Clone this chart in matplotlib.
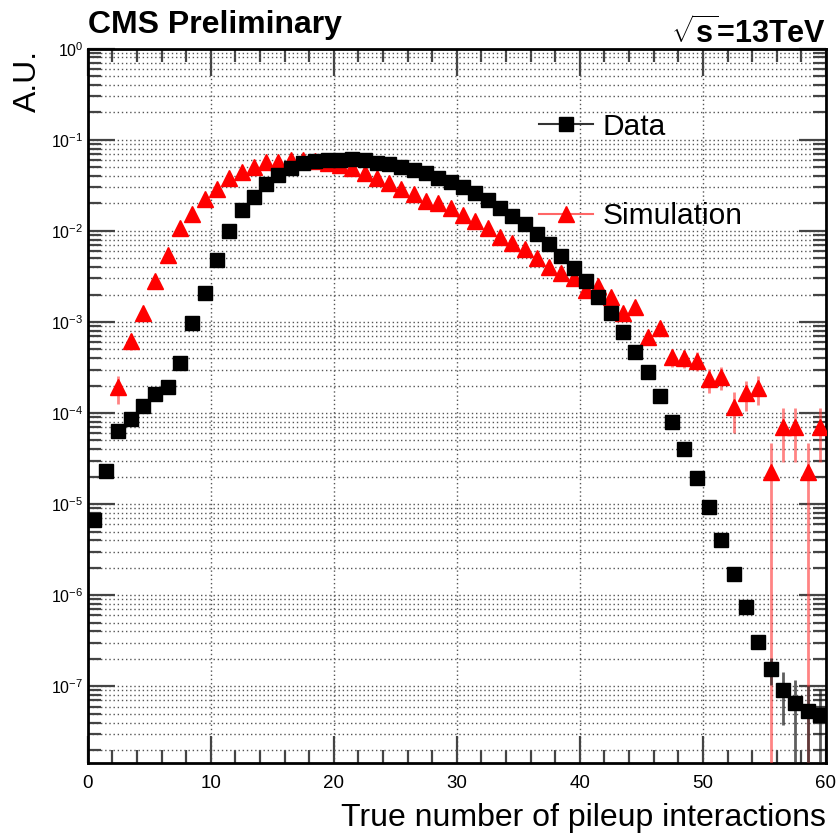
import matplotlib
matplotlib.use("Agg")
import matplotlib.pyplot as plt
from matplotlib.lines import Line2D
from matplotlib.ticker import LogLocator, MultipleLocator, NullFormatter
import numpy as np

plt.rcParams["font.family"] = ["Liberation Sans", "DejaVu Sans"]
plt.rcParams["mathtext.fontset"] = "custom"
plt.rcParams["mathtext.rm"] = "Liberation Sans"
plt.rcParams["mathtext.bf"] = "Liberation Sans:bold"

# ── pileup distributions (normalised, 1 bin per interaction) ─────────
pileup = np.arange(60) + 0.5

data = [6.7e-6, 2.3e-5, 6.3e-5, 8.5e-5, 1.2e-4, 1.63e-4, 1.92e-4, 3.5e-4, 9.7e-4, 2.1e-3,
        4.8e-3, 1.0e-2, 1.68e-2, 2.37e-2, 3.25e-2, 4.1e-2, 4.86e-2, 5.5e-2, 5.8e-2, 5.95e-2,
        6.0e-2, 6.1e-2, 5.95e-2, 5.6e-2, 5.4e-2, 5.07e-2, 4.7e-2, 4.28e-2, 3.84e-2, 3.47e-2,
        3.0e-2, 2.63e-2, 2.18e-2, 1.78e-2, 1.46e-2, 1.18e-2, 9.3e-3, 7.1e-3, 5.3e-3, 3.9e-3,
        2.8e-3, 1.87e-3, 1.25e-3, 7.8e-4, 4.7e-4, 2.8e-4, 1.54e-4, 8.05e-5, 4.0e-5, 1.96e-5,
        9.2e-6, 4.05e-6, 1.71e-6, 7.4e-7, 3.1e-7, 1.54e-7, 9.0e-8, 6.5e-8, 5.4e-8, 4.85e-8]
data_err = [0.0] * 52 + [5e-8, 5e-8, 5e-8, 5e-8, 5.2e-8, 5.2e-8, 4.6e-8, 4.5e-8]

sim = [np.nan, np.nan, 1.92e-4, 6.1e-4, 1.26e-3, 2.84e-3, 5.5e-3, 1.07e-2, 1.53e-2, 2.22e-2,
       2.86e-2, 3.78e-2, 4.4e-2, 5.07e-2, 5.7e-2, 5.75e-2, 6.0e-2, 6.05e-2, 5.9e-2, 5.6e-2,
       5.3e-2, 4.86e-2, 4.35e-2, 3.78e-2, 3.38e-2, 2.86e-2, 2.52e-2, 2.15e-2, 2.01e-2, 1.77e-2,
       1.49e-2, 1.28e-2, 1.07e-2, 8.6e-3, 7.3e-3, 6.4e-3, 5.0e-3, 4.05e-3, 3.48e-3, 3.02e-3,
       2.25e-3, 2.48e-3, 1.9e-3, 1.25e-3, 1.45e-3, 6.8e-4, 8.6e-4, 4.1e-4, 4.0e-4, 3.76e-4,
       2.37e-4, 2.5e-4, 1.16e-4, 1.65e-4, 1.87e-4, 2.27e-5, 7.1e-5, 7.1e-5, 2.27e-5, 7.1e-5]
sim_err = [0.0, 0.0, 6.5e-5, 1.2e-4, 1.7e-4, 2.6e-4, 3.6e-4, 5.0e-4, 5.9e-4, 7.2e-4,
           8.1e-4, 9.3e-4, 1.0e-3, 1.1e-3, 1.15e-3, 1.15e-3, 1.2e-3, 1.2e-3, 1.2e-3, 1.15e-3,
           1.1e-3, 1.05e-3, 1.0e-3, 9.3e-4, 8.8e-4, 8.1e-4, 7.6e-4, 7.0e-4, 6.8e-4, 6.4e-4,
           5.9e-4, 5.4e-4, 5.0e-4, 4.5e-4, 4.1e-4, 3.8e-4, 3.4e-4, 3.1e-4, 2.8e-4, 2.6e-4,
           2.3e-4, 2.4e-4, 2.1e-4, 1.7e-4, 1.8e-4, 1.0e-4, 1.3e-4, 9e-5, 9e-5, 9e-5,
           7e-5, 7e-5, 5.5e-5, 6e-5, 6.5e-5, 2.4e-5, 4.2e-5, 4.2e-5, 2.4e-5, 4.2e-5]

# ── figure ───────────────────────────────────────────────────
fig = plt.figure(figsize=(8.4, 8.39), dpi=100)
ax = fig.add_axes([0.1044, 0.0906, 0.8789, 0.8514])
ax.set_yscale("log")

ax.errorbar(pileup, sim, yerr=sim_err, fmt="^", ms=11, color="#ff0000",
            mec="#ff0000", ecolor=(1.0, 0.2, 0.2, 0.6), elinewidth=2, capsize=0, zorder=4)
ax.errorbar(pileup, data, yerr=data_err, fmt="s", ms=10, color="black",
            mec="black", ecolor=(0.1, 0.1, 0.1, 0.7), elinewidth=2, capsize=0, zorder=5)

ax.set_xlim(0, 60)
ax.set_ylim(1.44e-8, 1.0)

# ── ticks & grid ─────────────────────────────────────────────
ax.xaxis.set_major_locator(MultipleLocator(10))
ax.xaxis.set_minor_locator(MultipleLocator(2))
ax.yaxis.set_major_locator(LogLocator(base=10, numticks=20))
ax.yaxis.set_minor_locator(LogLocator(base=10, subs=np.arange(2, 10), numticks=20))
ax.yaxis.set_minor_formatter(NullFormatter())
ax.tick_params(which="both", direction="in", top=True, right=True,
               color="#444444", width=1.6)
ax.tick_params(which="major", length=19.5)
ax.tick_params(which="minor", length=9.5)
ax.tick_params(axis="x", pad=9, labelsize=13.5)
ax.tick_params(axis="y", pad=3, labelsize=11.5)
for sp in ax.spines.values():
    sp.set_linewidth(2)
ax.yaxis.grid(True, which="both", color="#555555", lw=1.0, ls=(0, (1, 2)))
ax.xaxis.grid(True, which="major", color="#555555", lw=1.0, ls=(0, (1, 2)))
ax.set_axisbelow(True)

# ── legend ───────────────────────────────────────────────────
handles = [
    Line2D([], [], color="#333333", lw=1.5, marker="s", ms=10, mfc="black", mec="black"),
    Line2D([], [], color="#ff6666", lw=1.5, marker="^", ms=11, mfc="#ff0000", mec="#ff0000"),
]
ax.legend(handles, ["Data", "Simulation"], loc="upper left", bbox_to_anchor=(0.611, 0.910),
          frameon=False, fontsize=21.5, handlelength=1.8, handletextpad=0.35,
          labelspacing=2.05, borderpad=0, borderaxespad=0)

# ── labels ───────────────────────────────────────────────────
fig.text(88 / 840, 1 - 33 / 839, "CMS Preliminary", fontsize=23, fontweight="bold",
         ha="left", va="baseline")
fig.text(826 / 840, 1 - 43 / 839, r"$\mathbf{\sqrt{s}}$=13TeV", fontsize=22,
         fontweight="bold", ha="right", va="baseline")
fig.text(826 / 840, 1 - 826 / 839, "True number of pileup interactions", fontsize=23,
         ha="right", va="baseline")
fig.text(28 / 840, 1 - 50 / 839, "A.U.", fontsize=23, rotation=90, ha="center", va="top")

fig.savefig("out.png", dpi=100)
